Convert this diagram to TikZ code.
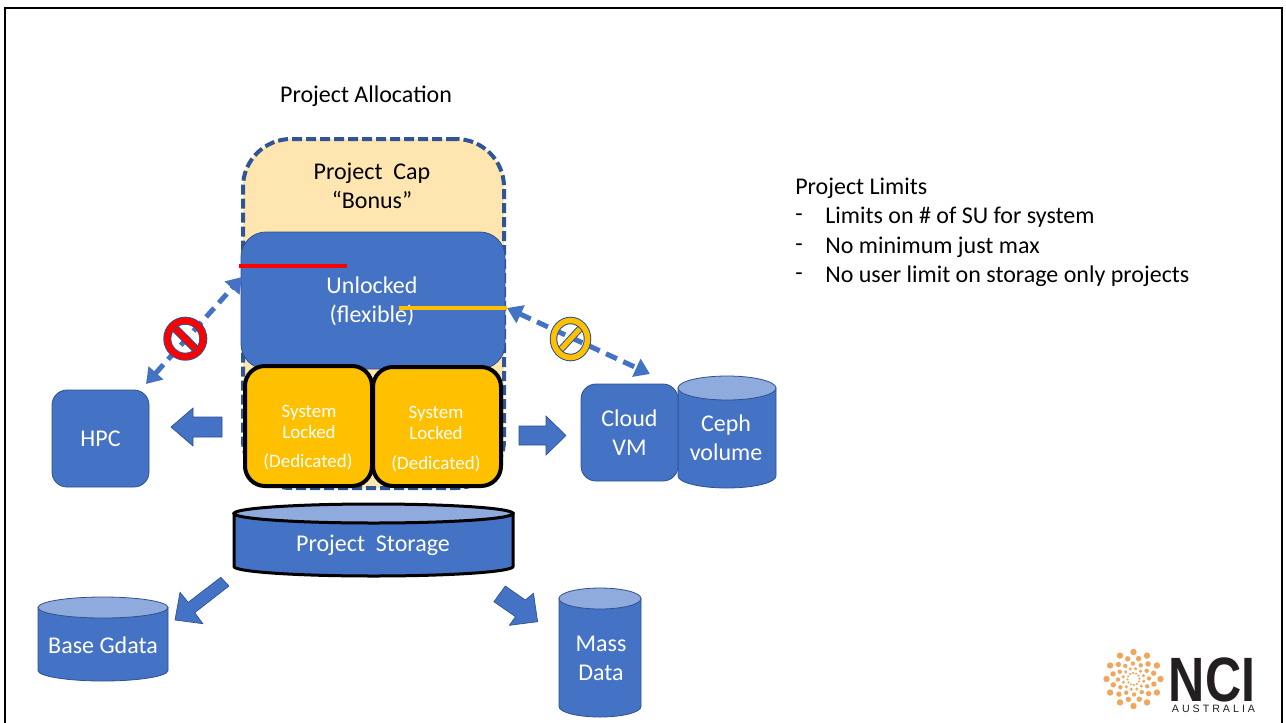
\documentclass[tikz,border=0pt]{standalone}
\usepackage{fontspec}
\setmainfont{Carlito}
\newfontfamily\logofont{Liberation Sans}
\usetikzlibrary{arrows.meta,shapes.geometric}
\definecolor{nciblue}{HTML}{4472C4}
\definecolor{edgeblue}{HTML}{2F528F}
\definecolor{lightblue}{HTML}{8FAADC}
\definecolor{capdash}{HTML}{2F5597}
\definecolor{capfill}{HTML}{FFE6B0}
\definecolor{lockgold}{HTML}{FFC000}
\definecolor{stopred}{HTML}{FF0000}
\definecolor{dotorange}{HTML}{F2A65C}
\definecolor{logoink}{HTML}{231F20}
\newcommand{\px}{.75pt}
\tikzset{
  x=.75pt,y=-.75pt,
  boxsize/.style n args={2}{minimum width=#1*\px,minimum height=#2*\px,inner sep=0pt,outer sep=0pt},
  bluebox/.style={rectangle,rounded corners=15*\px,fill=nciblue,draw=edgeblue,line width=.6pt,text=white,align=center,font=\fontsize{18}{21.75}\selectfont},
  lockbox/.style={rectangle,rounded corners=20*\px,fill=lockgold,draw=black,line width=4*\px},
  locktext/.style={text=white,align=center,font=\fontsize{14.2}{15.75}\selectfont,inner sep=0pt},
  plaintext/.style={text=black,align=left,font=\fontsize{18}{21.75}\selectfont,inner sep=0pt},
  whitetext/.style={text=white,align=center,font=\fontsize{18}{21.75}\selectfont,inner sep=0pt},
  blockarrow/.style={fill=nciblue,draw=edgeblue,line width=.5pt},
  dasharrow/.style={draw=nciblue,line width=5*\px,dash pattern=on 12*\px off 7*\px,{Triangle[length=15*\px,width=19*\px]}-{Triangle[length=15*\px,width=19*\px]}},
  stopbar/.style={line width=6*\px},
  logodot/.style={fill=dotorange,draw=none},
}
% name, x0, x1, ytop, ybottom, ry, extra style
\newcommand{\cyl}[7]{%
  \pgfmathsetmacro{\xm}{(#2+#3)/2}%
  \pgfmathsetmacro{\rx}{(#3-#2)/2}%
  \pgfmathsetmacro{\yu}{#4+#6}%
  \pgfmathsetmacro{\yl}{#5-#6}%
  \pgfmathsetmacro{\yk}{\yl+.5523*#6}%
  \pgfmathsetmacro{\xa}{\xm-.5523*\rx}%
  \pgfmathsetmacro{\xb}{\xm+.5523*\rx}%
  \filldraw[fill=nciblue,#7] (#2,\yu) -- (#2,\yl) .. controls (#2,\yk) and (\xa,#5) .. (\xm,#5) .. controls (\xb,#5) and (#3,\yk) .. (#3,\yl) -- (#3,\yu) -- cycle;
  \filldraw[fill=lightblue,#7] (\xm,\yu) ellipse [x radius=\rx*\px,y radius=#6*\px];
  \coordinate (#1) at (\xm,\yu);
}
\begin{document}
\begin{tikzpicture}
\useasboundingbox (0,0) rectangle (1286,722);
\fill[white] (0,0) rectangle (1286,722);
% slide frame
\draw[black,line width=2.5*\px] (5,730) -- (5,8) -- (1282,8) -- (1282,730);

\node[plaintext] (title) at (366,96) {Project Allocation};

% project cap
\node[rectangle,boxsize={261}{349},rounded corners=48*\px,fill=capfill,draw=capdash,line width=4*\px,dash pattern=on 10*\px off 4*\px] (cap) at (373.5,313.5) {};
\node[plaintext,align=center] (captext) at (372,185.5) {Project\ \ Cap\\“Bonus”};

% unlocked
\node[bluebox,boxsize={264}{137},rounded corners=25*\px] (unlocked) at (373,300.5) {};
\node[whitetext] (unlockedtext) at (372,301.5) {Unlocked\\(flexible)};

% locked
\node[lockbox,boxsize={127}{120}] (lockleft) at (308.5,426) {};
\node[lockbox,boxsize={128}{119}] (lockright) at (437,426.5) {};
\node[locktext] (lockleftt) at (309,422) {System\\Locked};
\node[locktext] (lockleftd) at (308,461.5) {(Dedicated)};
\node[locktext] (lockrightt) at (436,423) {System\\Locked};
\node[locktext] (lockrightd) at (436,463.5) {(Dedicated)};

% compute
\node[bluebox,boxsize={97}{97}] (hpc) at (100.5,438.5) {HPC};
\cyl{cephtop}{678}{776}{376}{488}{12}{draw=edgeblue,line width=.6pt}
\node[bluebox,boxsize={97}{97}] (cloud) at (629.5,432.5) {Cloud\\VM};
\node[whitetext] (ceph) at (726,438) {Ceph\\volume};

% storage
\cyl{storetop}{234}{513}{504}{576}{9.5}{draw=black,line width=3*\px}
\node[whitetext] (store) at (373,545.5) {Project\ \ Storage};
\cyl{basetop}{38}{168}{597}{681}{10.5}{draw=edgeblue,line width=.6pt}
\node[whitetext] (base) at (103,645.5) {Base Gdata};
\cyl{masstop}{559}{641}{588}{717}{10.5}{draw=edgeblue,line width=.6pt}
\node[whitetext] (mass) at (601,658) {Mass\\Data};

% block arrows
\filldraw[blockarrow] (222,417) -- (193,417) -- (193,408) -- (171,427) -- (193,446) -- (193,437) -- (222,437) -- cycle;
\filldraw[blockarrow] (519,426) -- (546,426) -- (546,416) -- (566,435.5) -- (546,455) -- (546,445) -- (519,445) -- cycle;
\filldraw[blockarrow] (220.8,577.3) -- (229,586) -- (194.7,612.7) -- (202.9,623.7) -- (175,620) -- (180,592.3) -- (188.2,602.3) -- cycle;
\filldraw[blockarrow] (505.3,586) -- (525.3,600) -- (533.5,593.3) -- (537.6,621.7) -- (509.4,625.3) -- (515.5,616.7) -- (493.9,601.7) -- cycle;

% limit lines
\coordinate (redstart) at (239,266);
\coordinate (redend) at (347,266);
\coordinate (goldstart) at (399,308);
\coordinate (goldend) at (507,308);
\draw[stopred,line width=4*\px] (redstart) -- (redend);
\draw[lockgold,line width=4*\px] (goldstart) -- (goldend);

% dashed links
\coordinate (hpclink) at (146,384);
\coordinate (unlockedleft) at (242,277);
\coordinate (unlockedright) at (507,308);
\coordinate (cloudlink) at (650,374);
\draw[dasharrow] (hpclink) -- (unlockedleft);
\draw[dasharrow] (unlockedright) -- (cloudlink);

% prohibition signs
\coordinate (stopone) at (185.3,338.7);
\draw[stopbar,draw=edgeblue,line width=8*\px] ([shift={(-12,-12)}]stopone) -- ([shift={(12,12)}]stopone);
\draw[stopbar,draw=stopred] ([shift={(-13,-13)}]stopone) -- ([shift={(13,13)}]stopone);
\node[circle,inner sep=0pt,outer sep=0pt,minimum size=36*\px,draw=stopred,line width=6*\px,preaction={draw=edgeblue,line width=8*\px}] (stoponering) at (stopone) {};
\coordinate (stoptwo) at (570.5,339);
\draw[stopbar,draw=edgeblue,line width=7*\px] ([shift={(-11,12)}]stoptwo) -- ([shift={(11,-12)}]stoptwo);
\draw[stopbar,draw=lockgold,line width=5*\px] ([shift={(-12,13)}]stoptwo) -- ([shift={(12,-13)}]stoptwo);
\node[ellipse,inner sep=0pt,outer sep=0pt,minimum width=34*\px,minimum height=37*\px,draw=lockgold,line width=5.5*\px,preaction={draw=edgeblue,line width=7.5*\px}] (stoptworing) at (stoptwo) {};

% limits text
\node[plaintext,anchor=west] (limhead) at (795,188.5) {Project Limits};
\node[plaintext,anchor=west] (dashone) at (795,218) {-};
\node[plaintext,anchor=west] (limone) at (825,217.5) {Limits on \# of SU for system};
\node[plaintext,anchor=west] (dashtwo) at (795,248) {-};
\node[plaintext,anchor=west] (limtwo) at (825,247.5) {No minimum just max};
\node[plaintext,anchor=west] (dashthree) at (795,277) {-};
\node[plaintext,anchor=west] (limthree) at (825,276.5) {No user limit on storage only projects};

% logo
\foreach \r/\d/\o in {27/3.2/0,21/2.7/14,15.5/2.2/28,10.5/1.7/42,6/1.2/56}{
  \foreach \k in {0,...,11}{
    \fill[logodot] ({1133.5+\r*cos(\k*30+\o)},{679+\r*sin(\k*30+\o)}) circle [radius=\d*\px];
  }
}
\node[inner sep=0pt,text=logoink,font=\logofont\bfseries\fontsize{47}{47}\selectfont,xscale=.8,text height=33pt,text depth=0pt,anchor=south] (nci) at (1212,702) {NCI};
\node[inner sep=0pt,text=logoink,font=\logofont\fontsize{8}{8}\selectfont,anchor=north] (aus) at (1213.5,705) {A\hspace{.28em}U\hspace{.28em}S\hspace{.28em}T\hspace{.28em}R\hspace{.28em}A\hspace{.28em}L\hspace{.28em}I\hspace{.28em}A};
\end{tikzpicture}
\end{document}
